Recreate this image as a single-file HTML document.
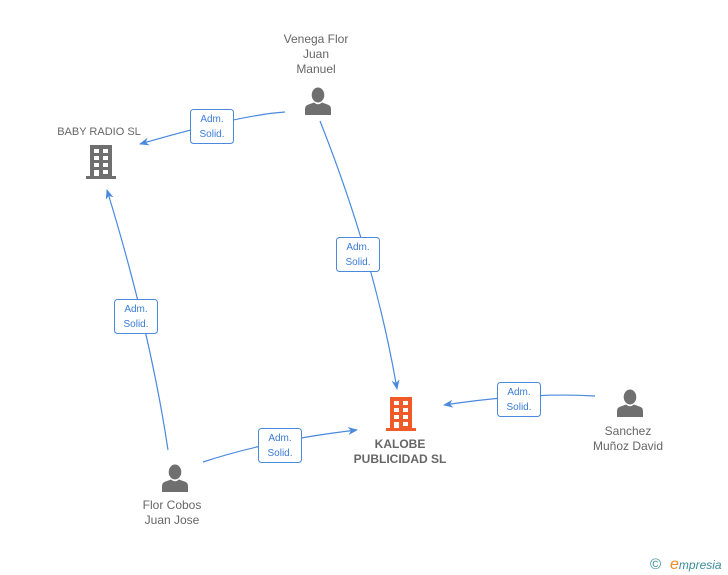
<!DOCTYPE html>
<html><head><style>
body{margin:0;background:#fff;}
svg{display:block;font-family:"Liberation Sans",Arial,sans-serif;}
.t{fill:#666;font-size:12px;text-anchor:middle;}
.l{fill:#3a7bd5;font-size:10px;text-anchor:middle;}
.e{fill:none;stroke:#4a89dc;stroke-width:1.2;}
</style></head><body>
<svg width="728" height="575" viewBox="0 0 728 575">
<defs>
<symbol id="p" viewBox="0 0 28 28"><ellipse cx="14" cy="8" rx="6.3" ry="7.5" fill="#6f6f6f"/><path d="M1 28 L1 22 Q1 18 6 17 L10 15.5 Q14 19 18 15.5 L22 17 Q27 18 27 22 L27 28Z" fill="#6f6f6f"/></symbol>
<symbol id="b" viewBox="0 0 30 34"><rect x="4" y="0" width="22" height="31" fill="currentColor"/><rect x="0" y="31" width="30" height="3" fill="currentColor"/>
<g fill="#fff"><rect x="8" y="4" width="5" height="4"/><rect x="17" y="4" width="5" height="4"/><rect x="8" y="11" width="5" height="4"/><rect x="17" y="11" width="5" height="4"/><rect x="8" y="18" width="5" height="4"/><rect x="17" y="18" width="5" height="4"/><rect x="8" y="25" width="5" height="6"/><rect x="17" y="25" width="5" height="4"/></g></symbol>
<marker id="a" markerWidth="10" markerHeight="10" refX="9" refY="5" orient="auto" markerUnits="userSpaceOnUse"><path d="M0 1 L10 5 L0 9 L3 5Z" fill="#4a89dc"/></marker>
</defs>
<path class="e" d="M285 112 Q240 115 140 144" marker-end="url(#a)"/>
<path class="e" d="M320 121 Q375 260 397 389" marker-end="url(#a)"/>
<path class="e" d="M168 450 Q150 330 107 190" marker-end="url(#a)"/>
<path class="e" d="M203 462 Q270 440 357 430" marker-end="url(#a)"/>
<path class="e" d="M595 396 Q530 392 444 405" marker-end="url(#a)"/>
<g fill="#fff" stroke="#4a89dc" stroke-width="1">
<rect x="190.5" y="109.5" width="43" height="34" rx="3"/>
<rect x="336.5" y="237.5" width="43" height="34" rx="3"/>
<rect x="114.5" y="299.5" width="43" height="34" rx="3"/>
<rect x="258.5" y="428.5" width="43" height="34" rx="3"/>
<rect x="497.5" y="382.5" width="43" height="34" rx="3"/>
</g>
<g class="l">
<text x="212" y="122">Adm.</text><text x="212" y="137">Solid.</text>
<text x="358" y="250">Adm.</text><text x="358" y="265">Solid.</text>
<text x="136" y="312">Adm.</text><text x="136" y="327">Solid.</text>
<text x="280" y="441">Adm.</text><text x="280" y="456">Solid.</text>
<text x="519" y="395">Adm.</text><text x="519" y="410">Solid.</text>
</g>
<use href="#p" x="304" y="87" width="28" height="28"/>
<use href="#p" x="161" y="464" width="28" height="28"/>
<use href="#p" x="616" y="389" width="28" height="28"/>
<use href="#b" x="86" y="145" width="30" height="34" style="color:#6f6f6f"/>
<use href="#b" x="386" y="397" width="30" height="34" style="color:#f05a28"/>
<g class="t">
<text x="316" y="43">Venega Flor</text><text x="316" y="58">Juan</text><text x="316" y="73">Manuel</text>
<text x="99" y="135" style="font-size:11px">BABY RADIO SL</text>
<text x="172" y="509">Flor Cobos</text><text x="172" y="524">Juan Jose</text>
<text x="628" y="435">Sanchez</text><text x="628" y="450">Muñoz David</text>
<text x="400" y="448" style="font-weight:bold">KALOBE</text><text x="400" y="463" style="font-weight:bold">PUBLICIDAD SL</text>
</g>
<text x="650" y="569" fill="#3a8a9a" font-size="15">©</text>
<text x="670" y="569" fill="#3a8a9a" font-size="12" font-style="italic"><tspan fill="#f08a20" font-size="16">e</tspan>mpresia</text>
</svg>
</body></html>
